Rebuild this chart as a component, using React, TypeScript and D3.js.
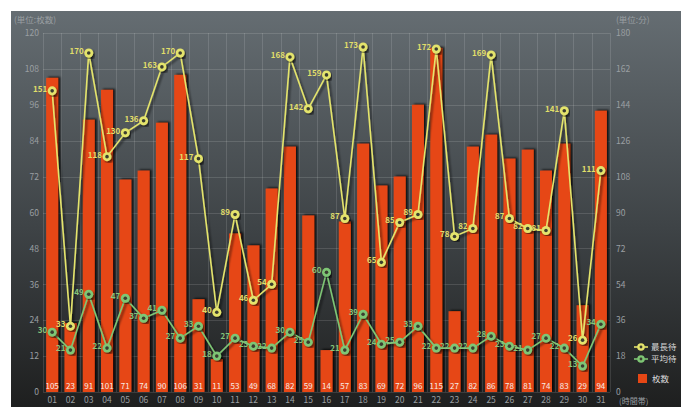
import { useEffect, useRef } from "react";
import * as d3 from "d3";

const hours = ["01","02","03","04","05","06","07","08","09","10","11","12","13","14","15","16","17","18","19","20","21","22","23","24","25","26","27","28","29","30","31"];
const counts = [105,23,91,101,71,74,90,106,31,11,53,49,68,82,59,14,57,83,69,72,96,115,27,82,86,78,81,74,83,29,94];
const maxWait = [151,33,170,118,130,136,163,170,117,40,89,46,54,168,142,159,87,173,65,85,89,172,78,82,169,87,82,81,141,26,111];
const avgWait = [30,21,49,22,47,37,41,27,33,18,27,23,22,30,25,60,21,39,24,25,33,22,22,22,28,23,21,27,22,13,34];
const leftTicks = [0,12,24,36,48,60,72,84,96,108,120];
const rightTicks = [0,18,36,54,72,90,108,126,144,162,180];

const FONT = "'Noto Sans CJK JP', 'Noto Sans', sans-serif";

export default function App() {
  const svgRef = useRef<SVGSVGElement>(null);

  useEffect(() => {
    const width = 681;
    const height = 407;
    const plot = { left: 43, right: 610, top: 33, bottom: 392 };

    const svg = d3.select(svgRef.current);
    svg.selectAll("*").remove();

    const defs = svg.append("defs");
    const grad = defs.append("linearGradient").attr("id", "bg").attr("x1", 0).attr("y1", 0).attr("x2", 0).attr("y2", 1);
    grad.append("stop").attr("offset", "0%").attr("stop-color", "#656d72");
    grad.append("stop").attr("offset", "55%").attr("stop-color", "#3e4346");
    grad.append("stop").attr("offset", "100%").attr("stop-color", "#1e1f1f");

    const barShadow = defs.append("filter").attr("id", "barShadow").attr("x", "-50%").attr("y", "-10%").attr("width", "200%").attr("height", "120%");
    barShadow.append("feDropShadow").attr("dx", 2).attr("dy", -1).attr("stdDeviation", 1.2).attr("flood-color", "#000").attr("flood-opacity", 0.8);

    const lineShadow = defs.append("filter").attr("id", "lineShadow").attr("x", "-10%").attr("y", "-10%").attr("width", "120%").attr("height", "120%");
    lineShadow.append("feDropShadow").attr("dx", 2).attr("dy", 2).attr("stdDeviation", 1.2).attr("flood-color", "#000").attr("flood-opacity", 0.6);

    svg.append("rect").attr("x", 11).attr("y", 11).attr("width", width - 11).attr("height", height - 11).attr("fill", "url(#bg)");

    const x = d3.scaleBand().domain(hours).range([plot.left, plot.right]).paddingInner(0).paddingOuter(0);
    const yL = d3.scaleLinear().domain([0, 120]).range([plot.bottom, plot.top]);
    const yR = d3.scaleLinear().domain([0, 180]).range([plot.bottom, plot.top]);

    // grid
    const grid = svg.append("g").attr("stroke", "#ffffff").attr("stroke-opacity", 0.13).attr("stroke-width", 1);
    leftTicks.forEach((t) => {
      grid.append("line").attr("x1", plot.left).attr("x2", plot.right).attr("y1", Math.round(yL(t)) + 0.5).attr("y2", Math.round(yL(t)) + 0.5);
    });
    hours.forEach((h) => {
      const xx = Math.round(x(h)!) + 0.5;
      grid.append("line").attr("x1", xx).attr("x2", xx).attr("y1", plot.top).attr("y2", plot.bottom);
    });
    grid.append("line").attr("x1", plot.right + 0.5).attr("x2", plot.right + 0.5).attr("y1", plot.top).attr("y2", plot.bottom);

    // axis text
    const axisColor = "#9a9fa2";
    svg.append("text").attr("x", 14).attr("y", 23).attr("fill", axisColor).attr("font-size", 8.5).attr("font-family", FONT).text("(単位:枚数)");
    svg.append("text").attr("x", 616).attr("y", 23).attr("fill", axisColor).attr("font-size", 8.5).attr("font-family", FONT).text("(単位:分)");
    svg.append("text").attr("x", 619).attr("y", 404).attr("fill", axisColor).attr("font-size", 8).attr("font-family", FONT).text("(時間帯)");

    const left = svg.append("g").attr("transform", `translate(${plot.left - 4},0)`)
      .call(d3.axisLeft(yL).tickValues(leftTicks).tickSize(0).tickPadding(0));
    left.select(".domain").remove();
    left.selectAll("text").attr("fill", axisColor).attr("font-size", 8.5).attr("font-family", FONT);

    const right = svg.append("g").attr("transform", `translate(${plot.right + 6},0)`)
      .call(d3.axisRight(yR).tickValues(rightTicks).tickSize(0).tickPadding(0));
    right.select(".domain").remove();
    right.selectAll("text").attr("fill", axisColor).attr("font-size", 8.5).attr("font-family", FONT);

    const bottom = svg.append("g").attr("transform", `translate(0,${plot.bottom + 5})`)
      .call(d3.axisBottom(x).tickSize(0).tickPadding(0));
    bottom.select(".domain").remove();
    bottom.selectAll("text").attr("fill", axisColor).attr("font-size", 8.5).attr("font-family", FONT);

    // bars
    const barW = 12;
    svg.append("g").selectAll("rect").data(counts).join("rect")
      .attr("x", (_, i) => x(hours[i])! + x.bandwidth() / 2 - barW / 2)
      .attr("y", (d) => yL(d))
      .attr("width", barW)
      .attr("height", (d) => plot.bottom - yL(d))
      .attr("fill", "#e64715")
      .attr("filter", "url(#barShadow)");

    svg.append("g").selectAll("text").data(counts).join("text")
      .attr("x", (_, i) => x(hours[i])! + x.bandwidth() / 2)
      .attr("y", plot.bottom - 3)
      .attr("text-anchor", "middle")
      .attr("fill", "#f6eee8")
      .attr("font-size", 8)
      .attr("font-family", FONT)
      .text((d) => d);

    const cx = (i: number) => x(hours[i])! + x.bandwidth() / 2;

    const drawLine = (vals: number[], color: string, labelColor: string) => {
      const line = d3.line<number>().x((_, i) => cx(i)).y((d) => yR(d));
      svg.append("path").datum(vals).attr("d", line).attr("fill", "none").attr("stroke", color).attr("stroke-width", 1.6).attr("filter", "url(#lineShadow)");
      const pts = svg.append("g").selectAll("g").data(vals).join("g").attr("transform", (d, i) => `translate(${cx(i)},${yR(d)})`);
      pts.append("circle").attr("r", 4.5).attr("fill", color).attr("filter", "url(#lineShadow)");
      pts.append("circle").attr("r", 1.8).attr("fill", "#3b3d30");
      svg.append("g").selectAll("text").data(vals).join("text")
        .attr("x", (_, i) => cx(i) - 5)
        .attr("y", (d) => yR(d) + 1)
        .attr("text-anchor", "end")
        .attr("fill", labelColor)
        .attr("font-size", 8)
        .attr("font-weight", "bold")
        .attr("font-family", FONT)
        .text((d) => d);
    };

    drawLine(maxWait, "#e4e46c", "#e0de6a");
    drawLine(avgWait, "#7ec674", "#86c47a");

    // legend
    const lg = svg.append("g").attr("font-family", FONT).attr("font-size", 8.5).attr("fill", "#d8d8d8");
    const lgItems = [
      { label: "最長待", color: "#e4e46c", y: 347 },
      { label: "平均待", color: "#7ec674", y: 359 },
    ];
    lgItems.forEach((it) => {
      lg.append("line").attr("x1", 634).attr("x2", 648).attr("y1", it.y).attr("y2", it.y).attr("stroke", it.color).attr("stroke-width", 1.6);
      lg.append("circle").attr("cx", 641).attr("cy", it.y).attr("r", 3.8).attr("fill", it.color);
      lg.append("circle").attr("cx", 641).attr("cy", it.y).attr("r", 1.4).attr("fill", "#3b3d30");
      lg.append("text").attr("x", 651).attr("y", it.y + 3).text(it.label);
    });
    lg.append("rect").attr("x", 638).attr("y", 374).attr("width", 9).attr("height", 9).attr("fill", "#e64715");
    lg.append("text").attr("x", 652).attr("y", 382).text("枚数");
  }, []);

  return <svg ref={svgRef} width={681} height={407} style={{ position: "absolute", left: 0, top: 0, display: "block" }} />;
}
